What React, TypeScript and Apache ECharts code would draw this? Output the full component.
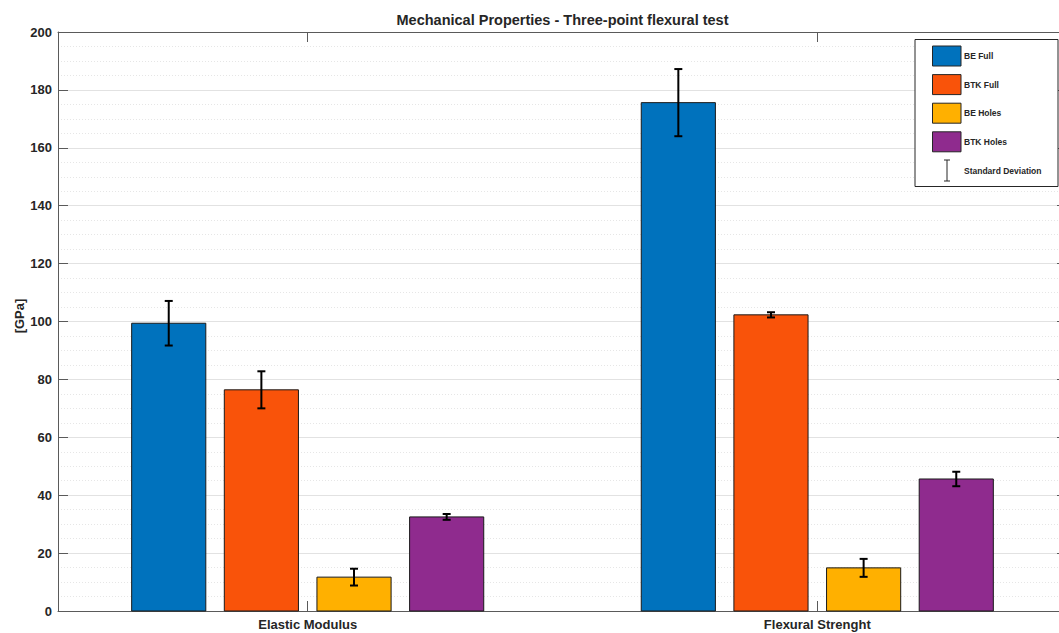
import React, { useEffect, useRef } from "react";
import * as echarts from "echarts";

// Test groups and measured properties
const categories = ["Elastic Modulus", "Flexural Strenght"];
const seriesNames = ["BE Full", "BTK Full", "BE Holes", "BTK Holes"];
const seriesColors = ["#0072BD", "#F9530A", "#FFB000", "#8F2B8E"];

// Mean values per series, one entry per category
const beFullMean = [99.4, 175.6];
const btkFullMean = [76.4, 102.3];
const beHolesMean = [11.7, 14.9];
const btkHolesMean = [32.5, 45.6];

// Standard deviations per series, one entry per category
const beFullSd = [7.7, 11.6];
const btkFullSd = [6.4, 0.9];
const beHolesSd = [2.9, 3.1];
const btkHolesSd = [1.0, 2.5];

const yTicks = [0, 20, 40, 60, 80, 100, 120, 140, 160, 180, 200];

const means = [beFullMean, btkFullMean, beHolesMean, btkHolesMean];
const sds = [beFullSd, btkFullSd, beHolesSd, btkHolesSd];

const FONT = "'Liberation Sans', Arial, Helvetica, sans-serif";
const TEXT = "#262626";
const AXIS = "#5a5a5a";

// Grouped bar layout in x-axis units
const groupOffsets = [-0.2727, -0.0909, 0.0909, 0.2727];
const barWidthUnits = 0.1455;

export default function App() {
  const ref = useRef<HTMLDivElement>(null);

  useEffect(() => {
    if (!ref.current) return;
    const chart = echarts.init(ref.current, undefined, { renderer: "svg" });

    const series = seriesNames.map((name, si) => ({
      type: "custom",
      name,
      xAxisIndex: 0,
      yAxisIndex: 0,
      clip: false,
      z: 3,
      data: categories.map((_, ci) => [ci + 1, means[si][ci], sds[si][ci]]),
      renderItem: (params: any, api: any) => {
        const x = api.value(0) + groupOffsets[si];
        const mean = api.value(1);
        const sd = api.value(2);
        const top = api.coord([x, mean]);
        const base = api.coord([x, 0]);
        const w = api.size([barWidthUnits, 0])[0];
        const hi = api.coord([x, mean + sd]);
        const lo = api.coord([x, mean - sd]);
        const cap = 4;
        const lineStyle = { stroke: "#000", lineWidth: 2 };
        return {
          type: "group",
          children: [
            {
              type: "rect",
              shape: { x: top[0] - w / 2, y: top[1], width: w, height: base[1] - top[1] },
              style: { fill: seriesColors[si], stroke: "#1a1a1a", lineWidth: 1 },
            },
            { type: "line", shape: { x1: top[0], y1: hi[1], x2: top[0], y2: lo[1] }, style: lineStyle },
            { type: "line", shape: { x1: top[0] - cap, y1: hi[1], x2: top[0] + cap, y2: hi[1] }, style: lineStyle },
            { type: "line", shape: { x1: top[0] - cap, y1: lo[1], x2: top[0] + cap, y2: lo[1] }, style: lineStyle },
          ],
        };
      },
    }));

    // Legend box drawn as graphic elements, placed above the grid lines
    const LZ = 200;
    const legendX = 915;
    const legendY = 39.5;
    const legendChildren: any[] = [
      {
        type: "rect",
        z: LZ,
        shape: { x: legendX, y: legendY, width: 143, height: 147 },
        style: { fill: "#fff", stroke: "#262626", lineWidth: 1 },
      },
    ];
    seriesNames.forEach((name, i) => {
      const sy = 46 + i * 28.6;
      legendChildren.push({
        type: "rect",
        z: LZ + 1,
        shape: { x: 932.5, y: sy, width: 28.5, height: 20 },
        style: { fill: seriesColors[i], stroke: "#262626", lineWidth: 1 },
      });
      legendChildren.push({
        type: "text",
        z: LZ + 1,
        x: 964,
        y: sy + 10,
        style: {
          text: name,
          font: `bold 8.5px ${FONT}`,
          fill: TEXT,
          verticalAlign: "middle",
          align: "left",
        },
      });
    });
    const eb = { stroke: "#262626", lineWidth: 1 };
    legendChildren.push(
      { type: "line", z: LZ + 1, shape: { x1: 947, y1: 160, x2: 947, y2: 181 }, style: eb },
      { type: "line", z: LZ + 1, shape: { x1: 944, y1: 160, x2: 950, y2: 160 }, style: eb },
      { type: "line", z: LZ + 1, shape: { x1: 944, y1: 181, x2: 950, y2: 181 }, style: eb },
      {
        type: "text",
        z: LZ + 1,
        x: 964,
        y: 171,
        style: {
          text: "Standard Deviation",
          font: `bold 8.5px ${FONT}`,
          fill: TEXT,
          verticalAlign: "middle",
          align: "left",
        },
      }
    );

    chart.setOption({
      animation: false,
      backgroundColor: "#fff",
      grid: {
        left: 58,
        width: 1009,
        top: 32,
        height: 579,
        containLabel: false,
        outerBoundsMode: "none",
      },
      xAxis: [
        {
          type: "value",
          position: "bottom",
          min: 0.51,
          max: 2.49,
          splitLine: { show: false },
          axisLine: { show: true, onZero: false, lineStyle: { color: AXIS, width: 1 } },
          axisTick: { show: true, inside: true, length: 10, customValues: [1, 2], lineStyle: { color: AXIS } },
          axisLabel: {
            customValues: [1, 2],
            formatter: (v: number) => categories[Math.round(v) - 1] ?? "",
            color: TEXT,
            fontFamily: FONT,
            fontWeight: "bold",
            fontSize: 13,
            margin: 7,
          },
        },
        {
          type: "value",
          position: "top",
          min: 0.51,
          max: 2.49,
          splitLine: { show: false },
          axisLine: { show: true, onZero: false, lineStyle: { color: AXIS, width: 1 } },
          axisTick: { show: true, inside: true, length: 10, customValues: [1, 2], lineStyle: { color: AXIS } },
          axisLabel: { show: false },
        },
      ],
      yAxis: [
        {
          type: "value",
          position: "left",
          min: yTicks[0],
          max: yTicks[yTicks.length - 1],
          interval: 20,
          axisLine: { show: true, onZero: false, lineStyle: { color: AXIS, width: 1 } },
          axisTick: { show: true, inside: true, length: 10, lineStyle: { color: AXIS } },
          axisLabel: {
            color: TEXT,
            fontFamily: FONT,
            fontWeight: "bold",
            fontSize: 13,
            margin: 6,
          },
          splitLine: { show: true, lineStyle: { color: "#e2e2e2", width: 1 } },
          minorTick: { show: false, splitNumber: 4 },
          minorSplitLine: { show: true, lineStyle: { color: "#e6e6e6", width: 1, type: [1, 2] } },
        },
        {
          type: "value",
          position: "right",
          min: yTicks[0],
          max: yTicks[yTicks.length - 1],
          interval: 20,
          axisLine: { show: true, onZero: false, lineStyle: { color: AXIS, width: 1 } },
          axisTick: { show: true, inside: true, length: 10, lineStyle: { color: AXIS } },
          axisLabel: { show: false },
          splitLine: { show: false },
        },
      ],
      series,
      graphic: [
        {
          type: "text",
          x: 562.5,
          y: 20,
          style: {
            text: "Mechanical Properties - Three-point flexural test",
            font: `bold 14.5px ${FONT}`,
            fill: TEXT,
            align: "center",
            verticalAlign: "middle",
          },
        },
        {
          type: "text",
          x: 19,
          y: 316,
          rotation: Math.PI / 2,
          style: {
            text: "[GPa]",
            font: `bold 13px ${FONT}`,
            fill: TEXT,
            align: "center",
            verticalAlign: "middle",
          },
        },
        { type: "group", z: LZ, children: legendChildren },
      ],
    });

    return () => chart.dispose();
  }, []);

  return (
    <div
      ref={ref}
      style={{ position: "fixed", left: 0, top: 0, width: 1059, height: 633, background: "#fff" }}
    />
  );
}
